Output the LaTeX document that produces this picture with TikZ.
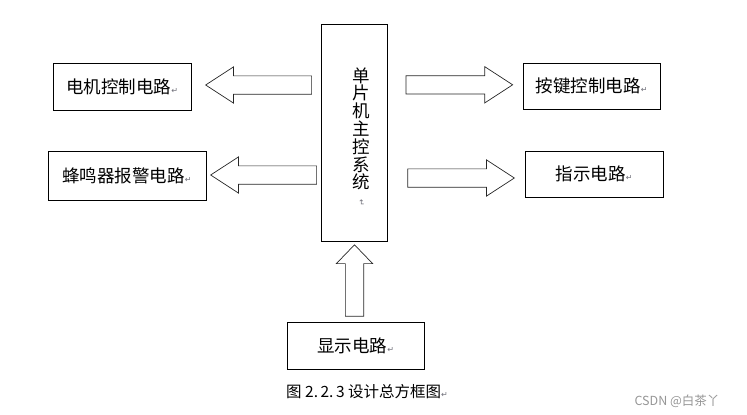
\documentclass[tikz,border=0pt]{standalone}
\usepackage{fontspec}
\setmainfont{Noto Sans CJK SC}
\newfontfamily\symfont{DejaVu Sans}
\usetikzlibrary{shapes.arrows}
\definecolor{markgray}{RGB}{110,110,120}
\definecolor{wmgray}{RGB}{150,150,150}
\tikzset{
  blk/.style={draw,line width=0.9pt,inner sep=0pt,font=\fontsize{17.5}{17.8}\selectfont},
  barrow/.style={draw=black!85,line width=0.7pt,single arrow,single arrow head extend=9pt,
    single arrow tip angle=66,inner sep=8.8pt,minimum width=35.4pt,anchor=tip},
  capt/.style={font=\fontsize{15.5}{15.5}\selectfont}
}
\newcommand\retmark{{\symfont\fontsize{8}{8}\selectfont\textcolor{markgray}{↵}}}

\begin{document}
\begin{tikzpicture}[x=1pt,y=-1pt]
  \useasboundingbox (0,0) rectangle (747,415);
  % main controller
  \node[blk,minimum width=66pt,minimum height=217pt] (mcu) at (354.5,132.6) {};
  \node[align=center,inner sep=0pt,font=\fontsize{17.5}{17.8}\selectfont] (mcutxt) at (361.5,137)
    {单\\片\\机\\主\\控\\系\\统\\[-7pt]\rotatebox{-90}{\retmark}};
  % peripheral circuits
  \node[blk,minimum width=137.5pt,minimum height=47pt] (motor) at (122.2,86.8) {电机控制电路\retmark};
  \node[blk,minimum width=158pt,minimum height=49pt] (buzz) at (127,176.3) {蜂鸣器报警电路\retmark};
  \node[blk,minimum width=137pt,minimum height=46pt] (key) at (591.7,86.3) {按键控制电路\retmark};
  \node[blk,minimum width=138pt,minimum height=46pt] (led) at (594.2,174.2) {指示电路\retmark};
  \node[blk,minimum width=137pt,minimum height=47pt] (disp) at (355.8,345.7) {显示电路\retmark};
  % block arrows (placed by their tips)
  \node[barrow,shape border rotate=180,minimum height=106pt] (a1) at (205,85) {};
  \node[barrow,shape border rotate=180,minimum height=106pt] (a2) at (210,175) {};
  \node[barrow,minimum height=106.6pt] (a3) at (513.3,84.8) {};
  \node[barrow,minimum height=106.7pt] (a4) at (515,178) {};
  \node[barrow,shape border rotate=90,single arrow tip angle=88,minimum height=71.4pt] (a5) at (354.5,244.3) {};
  % caption
  \node[capt] (caption) at (367,392) {图 2.\hspace{2.5pt}2.\hspace{2.5pt}3 设计总方框图\retmark};
  \node[font=\fontsize{12.5}{12.5}\selectfont,text=wmgray] (wm) at (677,401) {CSDN @白茶丫};
\end{tikzpicture}
\end{document}
